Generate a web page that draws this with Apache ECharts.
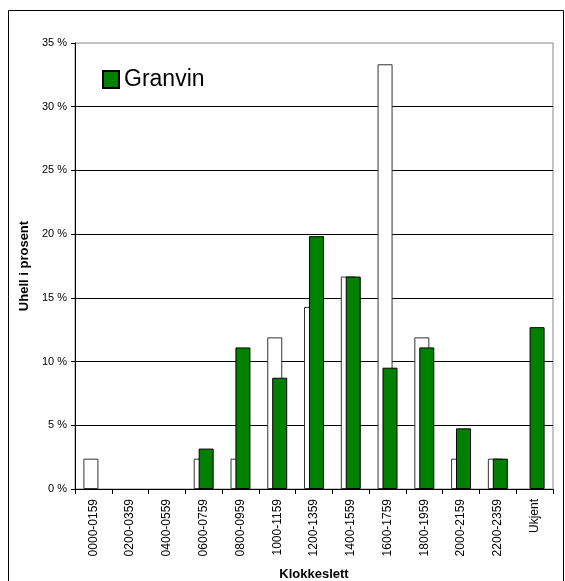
<!DOCTYPE html>
<html>
<head>
<meta charset="utf-8">
<script src="https://cdn.jsdelivr.net/npm/echarts@6/dist/echarts.min.js"></script>
<style>
  html, body { margin: 0; padding: 0; background: #fff; }
  #chart { width: 565px; height: 581px; }
</style>
</head>
<body>
<div id="chart"></div>
<script>
// Time-of-day bands (Klokkeslett)
const categories = [
  '0000-0159', '0200-0359', '0400-0559', '0600-0759', '0800-0959',
  '1000-1159', '1200-1359', '1400-1559', '1600-1759', '1800-1959',
  '2000-2159', '2200-2359', 'Ukjent'
];

// Comparison share of accidents (%), drawn as white bars behind
const comparisonValues = [2.38, 0, 0, 2.38, 2.38, 11.90, 14.29, 16.67, 33.33, 11.90, 2.38, 2.38, 0];

// Granvin share of accidents (%)
const granvinValues = [0, 0, 0, 3.17, 11.11, 8.73, 19.84, 16.67, 9.52, 11.11, 4.76, 2.38, 12.70];

const yTicks = { min: 0, max: 35, interval: 5 };

const font = 'Liberation Sans, Arial, sans-serif';

// Zero-height bars get no outline so they leave no stub on the axis
function barData(values) {
  return values.map(v => v === 0 ? { value: v, itemStyle: { borderWidth: 0 } } : v);
}

const chart = echarts.init(document.getElementById('chart'), null, { renderer: 'canvas' });

chart.setOption({
  animation: false,
  backgroundColor: '#fff',
  textStyle: { fontFamily: font },
  graphic: [{
    type: 'rect',
    shape: { x: 8.5, y: 10.5, width: 555, height: 600 },
    style: { fill: 'none', stroke: '#000', lineWidth: 1 },
    silent: true
  }],
  grid: {
    left: 75, top: 43, right: 12, bottom: 92,
    outerBoundsMode: 'none',
    containLabel: false,
    show: true,
    borderColor: '#888',
    borderWidth: 1,
    backgroundColor: '#fff'
  },
  legend: {
    data: ['Granvin'],
    left: 97, top: 63,
    icon: 'rect',
    itemWidth: 16, itemHeight: 17,
    itemGap: 7,
    textStyle: { fontSize: 23, color: '#000', fontFamily: font }
  },
  xAxis: {
    type: 'category',
    data: categories,
    name: 'Klokkeslett',
    nameLocation: 'middle',
    nameGap: 79,
    nameTextStyle: { fontSize: 13, fontWeight: 'bold', color: '#000', fontFamily: font },
    axisLine: { lineStyle: { color: '#000', width: 1 } },
    axisTick: { show: true, length: 5, alignWithLabel: false, lineStyle: { color: '#000' } },
    axisLabel: { rotate: 90, fontSize: 12, color: '#000', margin: 10, fontFamily: font },
    splitLine: { show: false }
  },
  yAxis: {
    type: 'value',
    min: yTicks.min, max: yTicks.max, interval: yTicks.interval,
    name: 'Uhell i prosent',
    nameLocation: 'middle',
    nameGap: 43,
    nameTextStyle: { fontSize: 13, fontWeight: 'bold', color: '#000', fontFamily: font },
    axisLine: { show: true, lineStyle: { color: '#000', width: 1 } },
    axisTick: { show: true, length: 4, lineStyle: { color: '#000' } },
    axisLabel: { formatter: '{value} %', fontSize: 11, color: '#000', margin: 8, fontFamily: font },
    splitLine: { show: true, showMaxLine: false, lineStyle: { color: '#000', width: 1 } }
  },
  series: [
    {
      name: 'Totalt',
      type: 'bar',
      data: barData(comparisonValues),
      barWidth: 15,
      barGap: '-67%',
      itemStyle: { color: '#fff', borderColor: '#333', borderWidth: 1 }
    },
    {
      name: 'Granvin',
      type: 'bar',
      data: barData(granvinValues),
      barWidth: 15,
      itemStyle: { color: '#008000', borderColor: '#000', borderWidth: 1 }
    }
  ]
});
</script>
</body>
</html>
